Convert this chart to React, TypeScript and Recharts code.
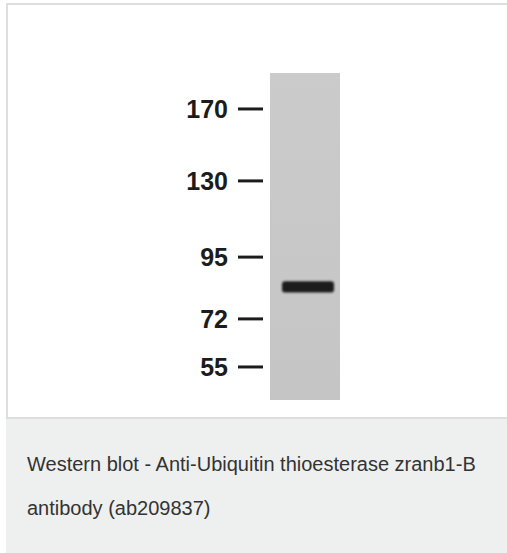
import React from 'react'
import { ComposedChart, Bar, XAxis, YAxis } from 'recharts'

// relative migration (% of lane length, 0 = well)
const lanes = ['Lane 1']
const laneStart = [0]
const laneEnd = [100]
const bandTop = [63.7]
const bandBottom = [67.1]

const markerLabels = ['170', '130', '95', '72', '55']
const markerRf = [11.0, 33.0, 56.3, 75.2, 89.9]

const caption = ['Western blot - Anti-Ubiquitin thioesterase zranb1-B', 'antibody (ab209837)']

const data = lanes.map((lane, i) => ({
  lane,
  gel: [laneStart[i], laneEnd[i]],
  band: [bandTop[i], bandBottom[i]],
}))

const FONT = "Arial, 'Liberation Sans', Helvetica, sans-serif"

function MarkerTick(props: any) {
  const { x, y, payload } = props
  const i = markerRf.indexOf(payload.value)
  return (
    <g>
      <text
        x={x - 35}
        y={y}
        dy="0.36em"
        textAnchor="end"
        fontFamily={FONT}
        fontSize={25}
        fontWeight="bold"
        fill="#1c1c1c"
      >
        {markerLabels[i]}
      </text>
      <line x1={x - 25} x2={x} y1={y} y2={y} stroke="#1c1c1c" strokeWidth={3} />
    </g>
  )
}

// the bar may come with a negative height on the reversed axis
function BandShape(props: any) {
  const { x, y, width, height } = props
  const top = height < 0 ? y + height : y
  const h = Math.abs(height)
  return (
    <rect
      x={x}
      y={top}
      width={width}
      height={h}
      rx={3}
      ry={3}
      fill="#1e1e1e"
      filter="url(#bandBlur)"
    />
  )
}

export default function App() {
  return (
    <div
      style={{
        position: 'absolute',
        top: 0,
        left: 0,
        width: 507,
        height: 553,
        overflow: 'hidden',
        background: '#fff',
        fontFamily: FONT,
      }}
    >
      <div
        style={{
          position: 'absolute',
          left: 6,
          top: 3,
          width: 510,
          height: 416,
          boxSizing: 'border-box',
          borderTop: '2px solid #dedede',
          borderLeft: '2px solid #dedede',
          borderBottom: '2px solid #dedede',
          background: '#fff',
        }}
      />
      <div style={{ position: 'absolute', left: 0, top: 0 }}>
        <ComposedChart
          width={507}
          height={420}
          data={data}
          margin={{ top: 73, right: 160, bottom: 20, left: 183 }}
        >
          <defs>
            <linearGradient id="laneFill" x1="0" y1="0" x2="0" y2="1">
              <stop offset="0%" stopColor="#cbcbcb" />
              <stop offset="100%" stopColor="#c5c5c5" />
            </linearGradient>
            <filter id="bandBlur" x="-10%" y="-80%" width="120%" height="260%">
              <feGaussianBlur stdDeviation="0.9" />
            </filter>
          </defs>
          <XAxis xAxisId="gel" dataKey="lane" type="category" hide />
          <XAxis xAxisId="band" dataKey="lane" type="category" hide padding={{ left: 6, right: 0 }} />
          <YAxis
            type="number"
            domain={[0, 100]}
            reversed
            ticks={markerRf}
            interval={0}
            width={80}
            axisLine={false}
            tickLine={false}
            tickSize={0}
            tickMargin={0}
            tick={(p: any) => <MarkerTick {...p} />}
          />
          <Bar
            xAxisId="gel"
            dataKey="gel"
            barSize={70}
            fill="url(#laneFill)"
            isAnimationActive={false}
          />
          <Bar
            xAxisId="band"
            dataKey="band"
            barSize={52}
            shape={(p: any) => <BandShape {...p} />}
            isAnimationActive={false}
          />
        </ComposedChart>
      </div>
      <div
        style={{
          position: 'absolute',
          left: 6,
          top: 419,
          width: 501,
          height: 134,
          background: '#eef0ef',
          boxSizing: 'border-box',
          padding: '23px 0 0 21px',
          color: '#333',
          fontSize: 20,
          lineHeight: '44px',
        }}
      >
        {caption.map((line) => (
          <div key={line} style={{ whiteSpace: 'nowrap' }}>
            {line}
          </div>
        ))}
      </div>
    </div>
  )
}
